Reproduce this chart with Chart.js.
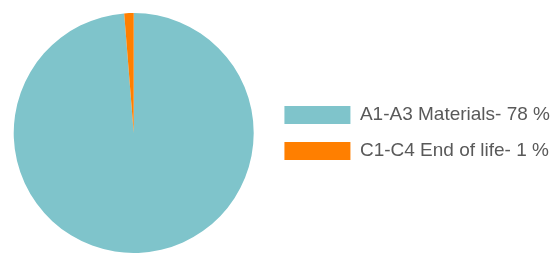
<!DOCTYPE html>
<html>
<head>
<meta charset="utf-8">
<script src="https://cdn.jsdelivr.net/npm/chart.js@4"></script>
<style>
  html, body { margin: 0; padding: 0; background: #fff; overflow: hidden; }
  #wrap { width: 560px; height: 253px; }
</style>
</head>
<body>
<div id="wrap"><canvas id="myChart"></canvas></div>
<script>
// data
const labels = ['A1-A3 Materials- 78 %', 'C1-C4 End of life- 1 %']
const values = [78, 1]
const colors = ['#7FC4CB', '#FF7F00']

const chart = document.querySelector('#myChart').getContext('2d')

const myChart = new Chart(chart, {
	type: 'pie',
	data: {
		labels: labels,
		datasets: [
			{
				data: values,
				backgroundColor: colors,
				borderWidth: 0
			}
		]
	},
	options: {
		responsive: true,
		maintainAspectRatio: false,
		animation: false,
		layout: {
			padding: { top: 13, bottom: 0, left: 0, right: 0 }
		},
		plugins: {
			tooltip: { enabled: false },
			legend: {
				position: 'right',
				align: 'center',
				// let the legend take its full width instead of half the chart
				maxWidth: 1000,
				labels: {
					boxWidth: 66,
					boxHeight: 18,
					padding: 17,
					color: '#595959',
					font: { family: 'Liberation Sans, Arial, sans-serif', size: 19 }
				}
			}
		}
	}
})
</script>
</body>
</html>
